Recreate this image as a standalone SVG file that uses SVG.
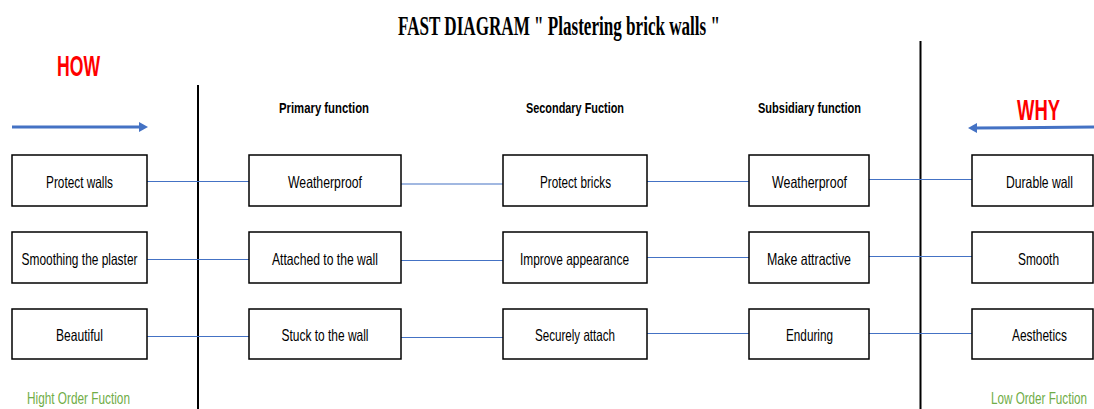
<svg xmlns="http://www.w3.org/2000/svg" width="1094" height="409" viewBox="0 0 1094 409">
<style>
.box{fill:#fff;stroke:#000;stroke-width:1.5}
.lbl{font-family:"Liberation Sans",Arial,sans-serif;font-size:16.5px;fill:#000;text-anchor:middle}
.hdr{font-family:"Liberation Sans",Arial,sans-serif;font-size:15px;font-weight:bold;fill:#000;text-anchor:middle}
.conn{stroke:#4472C4;stroke-width:1.2;fill:none}
.axis{stroke:#000;stroke-width:2}
.big{font-family:"Liberation Sans",Arial,sans-serif;font-size:29px;font-weight:bold;fill:#FF0000;text-anchor:middle}
.grn{font-family:"Liberation Sans",Arial,sans-serif;font-size:16px;fill:#70AD47;text-anchor:middle}
</style>
<rect width="1094" height="409" fill="#fff"/>
<text x="559" y="35" text-anchor="middle" font-family="Liberation Serif,'Times New Roman',serif" font-weight="bold" font-size="27px" textLength="322" lengthAdjust="spacingAndGlyphs">FAST DIAGRAM " Plastering brick walls "</text>
<g id="how">
<text class="big" x="78.5" y="76" textLength="43" lengthAdjust="spacingAndGlyphs">HOW</text>
<line x1="12" y1="127" x2="141" y2="127" stroke="#4472C4" stroke-width="3"/>
<polygon points="139,122 148,127 139,132" fill="#4472C4"/>
</g>
<g id="why">
<text class="big" x="1038.5" y="120" textLength="43" lengthAdjust="spacingAndGlyphs">WHY</text>
<line x1="1094" y1="127" x2="975" y2="128" stroke="#4472C4" stroke-width="3"/>
<polygon points="977,123 968,128 977,133" fill="#4472C4"/>
</g>
<g id="axes">
<line class="axis" x1="198" y1="85" x2="198" y2="409"/>
<line class="axis" x1="920.5" y1="41" x2="920.5" y2="409"/>
</g>
<g id="headers">
<text class="hdr" x="324" y="113" textLength="90" lengthAdjust="spacingAndGlyphs">Primary function</text>
<text class="hdr" x="575" y="113" textLength="98" lengthAdjust="spacingAndGlyphs">Secondary Fuction</text>
<text class="hdr" x="809.5" y="113" textLength="103" lengthAdjust="spacingAndGlyphs">Subsidiary function</text>
</g>
<g id="connectors">
<line class="conn" x1="147" y1="181.5" x2="249" y2="181.5"/>
<line class="conn" x1="401" y1="184" x2="503" y2="184"/>
<line class="conn" x1="647" y1="181.5" x2="749" y2="181.5"/>
<line class="conn" x1="869" y1="179.5" x2="972" y2="179.5"/>
<line class="conn" x1="147" y1="259.5" x2="249" y2="259.5"/>
<line class="conn" x1="401" y1="260.5" x2="503" y2="260.5"/>
<line class="conn" x1="647" y1="257.5" x2="749" y2="257.5"/>
<line class="conn" x1="869" y1="256.5" x2="972" y2="256.5"/>
<line class="conn" x1="147" y1="336.5" x2="249" y2="336.5"/>
<line class="conn" x1="401" y1="337.5" x2="503" y2="337.5"/>
<line class="conn" x1="647" y1="333.5" x2="749" y2="333.5"/>
<line class="conn" x1="869" y1="333.5" x2="972" y2="333.5"/>
</g>
<g id="n-protect-walls"><rect class="box" x="12" y="155" width="135" height="51"/><text class="lbl" x="79.5" y="188" textLength="67" lengthAdjust="spacingAndGlyphs">Protect walls</text></g>
<g id="n-smoothing"><rect class="box" x="12" y="232" width="135" height="51"/><text class="lbl" x="79.5" y="265" textLength="116" lengthAdjust="spacingAndGlyphs">Smoothing the plaster</text></g>
<g id="n-beautiful"><rect class="box" x="12" y="309" width="135" height="50"/><text class="lbl" x="79.5" y="341" textLength="47" lengthAdjust="spacingAndGlyphs">Beautiful</text></g>
<g id="n-weatherproof-1"><rect class="box" x="249" y="155" width="152" height="51"/><text class="lbl" x="325" y="188" textLength="74" lengthAdjust="spacingAndGlyphs">Weatherproof</text></g>
<g id="n-attached"><rect class="box" x="249" y="232" width="152" height="51"/><text class="lbl" x="325" y="265" textLength="106" lengthAdjust="spacingAndGlyphs">Attached to the wall</text></g>
<g id="n-stuck"><rect class="box" x="249" y="309" width="152" height="50"/><text class="lbl" x="325" y="341" textLength="87" lengthAdjust="spacingAndGlyphs">Stuck to the wall</text></g>
<g id="n-protect-bricks"><rect class="box" x="503" y="155" width="144" height="51"/><text class="lbl" x="575.5" y="188" textLength="71" lengthAdjust="spacingAndGlyphs">Protect bricks</text></g>
<g id="n-improve"><rect class="box" x="503" y="232" width="144" height="51"/><text class="lbl" x="574.5" y="265" textLength="109" lengthAdjust="spacingAndGlyphs">Improve appearance</text></g>
<g id="n-securely"><rect class="box" x="503" y="309" width="144" height="50"/><text class="lbl" x="575" y="341" textLength="80" lengthAdjust="spacingAndGlyphs">Securely attach</text></g>
<g id="n-weatherproof-2"><rect class="box" x="749" y="155" width="120" height="51"/><text class="lbl" x="809.5" y="188" textLength="75" lengthAdjust="spacingAndGlyphs">Weatherproof</text></g>
<g id="n-attractive"><rect class="box" x="749" y="232" width="120" height="51"/><text class="lbl" x="809" y="265" textLength="84" lengthAdjust="spacingAndGlyphs">Make attractive</text></g>
<g id="n-enduring"><rect class="box" x="749" y="309" width="120" height="50"/><text class="lbl" x="809.5" y="341" textLength="47" lengthAdjust="spacingAndGlyphs">Enduring</text></g>
<g id="n-durable"><rect class="box" x="972" y="155" width="121" height="51"/><text class="lbl" x="1039.5" y="188" textLength="67" lengthAdjust="spacingAndGlyphs">Durable wall</text></g>
<g id="n-smooth"><rect class="box" x="972" y="232" width="121" height="51"/><text class="lbl" x="1038.5" y="265" textLength="41" lengthAdjust="spacingAndGlyphs">Smooth</text></g>
<g id="n-aesthetics"><rect class="box" x="972" y="309" width="121" height="50"/><text class="lbl" x="1039.5" y="341" textLength="55" lengthAdjust="spacingAndGlyphs">Aesthetics</text></g>
<g id="order-labels">
<text class="grn" x="78.5" y="404" textLength="103" lengthAdjust="spacingAndGlyphs">Hight Order Fuction</text>
<text class="grn" x="1039" y="404" textLength="96" lengthAdjust="spacingAndGlyphs">Low Order Fuction</text>
</g>
</svg>
